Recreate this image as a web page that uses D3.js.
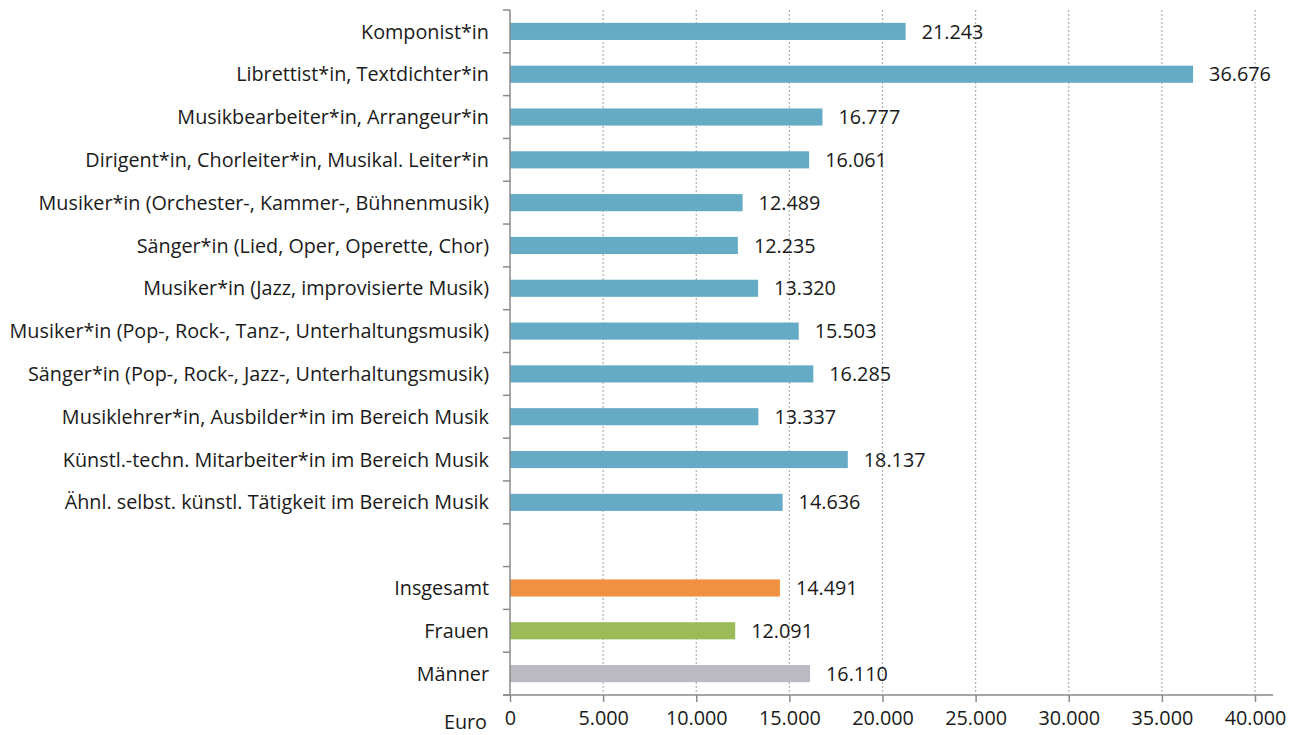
<!DOCTYPE html>
<html>
<head>
<meta charset="utf-8">
<script src="https://cdn.jsdelivr.net/npm/d3@7"></script>
<style>
  body { margin: 0; background: #fff; }
  text { font-family: "Open Sans", sans-serif; fill: #1a1a1a; }
</style>
</head>
<body>
<div id="chart"></div>
<script>
// categories top to bottom, '' = empty gap row
const categories = [
  'Komponist*in',
  'Librettist*in, Textdichter*in',
  'Musikbearbeiter*in, Arrangeur*in',
  'Dirigent*in, Chorleiter*in, Musikal. Leiter*in',
  'Musiker*in (Orchester-, Kammer-, Bühnenmusik)',
  'Sänger*in (Lied, Oper, Operette, Chor)',
  'Musiker*in (Jazz, improvisierte Musik)',
  'Musiker*in (Pop-, Rock-, Tanz-, Unterhaltungsmusik)',
  'Sänger*in (Pop-, Rock-, Jazz-, Unterhaltungsmusik)',
  'Musiklehrer*in, Ausbilder*in im Bereich Musik',
  'Künstl.-techn. Mitarbeiter*in im Bereich Musik',
  'Ähnl. selbst. künstl. Tätigkeit im Bereich Musik'
]
const values = [21243, 36676, 16777, 16061, 12489, 12235, 13320, 15503, 16285, 13337, 18137, 14636]

const summaryCategories = ['Insgesamt', 'Frauen', 'Männer']
const summaryValues = [14491, 12091, 16110]
const summaryColors = ['#f0913f', '#9bbb59', '#bbb9c1']

const xTicks = [0, 5000, 10000, 15000, 20000, 25000, 30000, 35000, 40000]

const rows = categories.map((c, i) => ({ key: c, value: values[i], color: '#65abc6' }))
  .concat([{ key: '', value: null }])
  .concat(summaryCategories.map((c, i) => ({ key: c, value: summaryValues[i], color: summaryColors[i] })))

const width = 1303, height = 735
const fs = '19.8px'
const fmt = d3.format(',')
const de = v => fmt(v).replace(/,/g, '.')

const svg = d3.select('#chart').append('svg')
  .attr('width', width).attr('height', height)

const x = d3.scaleLinear().domain([0, 40000]).range([510, 1255])
const y = d3.scaleBand().domain(rows.map(d => d.key)).range([10, 695]).paddingInner(0.6).paddingOuter(0.3)
const step = y.step()

// dotted grid
svg.append('g').selectAll('line')
  .data(xTicks.slice(1))
  .enter().append('line')
  .attr('x1', d => x(d)).attr('x2', d => x(d))
  .attr('y1', 10).attr('y2', 695)
  .attr('stroke', '#b0b0b0').attr('stroke-width', 1.2)
  .attr('stroke-dasharray', '2,2')

// bars
svg.append('g').selectAll('rect')
  .data(rows.filter(d => d.value != null))
  .enter().append('rect')
  .attr('x', x(0))
  .attr('y', d => y(d.key))
  .attr('width', d => x(d.value) - x(0))
  .attr('height', y.bandwidth())
  .attr('fill', d => d.color)

// value labels
svg.append('g').selectAll('text')
  .data(rows.filter(d => d.value != null))
  .enter().append('text')
  .attr('x', d => x(d.value) + 16)
  .attr('y', d => y(d.key) + y.bandwidth() / 2)
  .attr('dy', '0.36em')
  .style('font-size', fs)
  .text(d => de(d.value))

// category labels
svg.append('g').selectAll('text')
  .data(rows.filter(d => d.key !== ''))
  .enter().append('text')
  .attr('x', 489)
  .attr('y', d => y(d.key) + y.bandwidth() / 2)
  .attr('dy', '0.36em')
  .attr('text-anchor', 'end')
  .style('font-size', fs)
  .text(d => d.key)

// y axis line with boundary ticks
const axisColor = '#8a8a8a'
svg.append('line')
  .attr('x1', 510).attr('x2', 510).attr('y1', 10).attr('y2', 695)
  .attr('stroke', axisColor).attr('stroke-width', 1.5)
svg.append('g').selectAll('line')
  .data(d3.range(rows.length + 1))
  .enter().append('line')
  .attr('x1', 503).attr('x2', 510)
  .attr('y1', i => 10 + i * step).attr('y2', i => 10 + i * step)
  .attr('stroke', axisColor).attr('stroke-width', 1.5)

// x axis
const xAxis = svg.append('g')
  .attr('transform', 'translate(0,695)')
  .call(d3.axisBottom(x).tickValues(xTicks).tickFormat(de).tickSize(7).tickPadding(9))
xAxis.select('.domain').remove()
xAxis.selectAll('.tick line').attr('stroke', axisColor).attr('stroke-width', 1.5)
xAxis.selectAll('.tick text').style('font-size', fs).attr('fill', '#1a1a1a').style('font-family', '"Open Sans", sans-serif')
xAxis.append('line')
  .attr('x1', 503).attr('x2', 1273)
  .attr('stroke', axisColor).attr('stroke-width', 1.5)

svg.append('text')
  .attr('x', 487).attr('y', 722)
  .attr('dy', '0.36em')
  .attr('text-anchor', 'end')
  .style('font-size', fs)
  .text('Euro')
</script>
</body>
</html>
